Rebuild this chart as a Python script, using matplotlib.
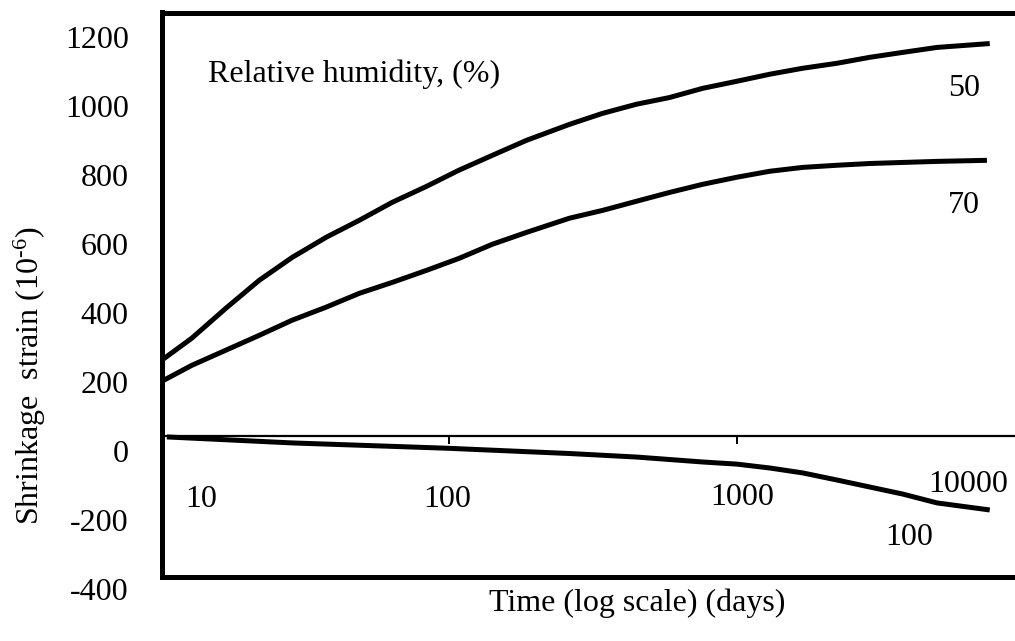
import matplotlib
matplotlib.use("Agg")
import matplotlib.pyplot as plt
from matplotlib.ticker import NullLocator, FixedLocator, NullFormatter
import matplotlib.transforms as mtransforms

plt.rcParams["font.family"] = ["Liberation Serif", "DejaVu Serif"]
plt.rcParams["mathtext.fontset"] = "custom"
plt.rcParams["mathtext.rm"] = "Liberation Serif"
plt.rcParams["mathtext.it"] = "Liberation Serif:italic"
plt.rcParams["axes.unicode_minus"] = False

# Shrinkage strain (x10^-6) versus time, for three relative humidities
days_50 = [10, 12.7, 16.7, 21.8, 28.4, 37.3, 48.6, 63.3, 83.2, 108, 141, 186,
           262, 341, 448, 584, 761, 1000, 1303, 1698, 2231, 2907, 3788, 4978, 7600]
strain_50 = [215, 277, 362, 441, 506, 563, 611, 662, 707, 753, 795, 838,
             883, 914, 940, 959, 985, 1005, 1025, 1042, 1056, 1073, 1087, 1101, 1112]

days_70 = [10, 12.7, 16.7, 21.8, 28.4, 37.3, 48.6, 63.3, 83.2, 108, 141, 186,
           262, 341, 448, 584, 761, 1000, 1303, 1698, 2231, 2907, 3788, 4978, 7430]
strain_70 = [155, 200, 243, 285, 328, 365, 404, 435, 469, 503, 543, 577,
             617, 639, 665, 690, 713, 733, 750, 761, 767, 772, 775, 778, 781]

days_100 = [10.4, 28.4, 98, 262, 448, 761, 1000, 1303, 1698, 2231, 2907, 3788, 4978, 7600]
strain_100 = [-3, -20, -35, -50, -60, -74, -80, -91, -105, -125, -145, -165, -190, -210]

y_ticks = [-400, -200, 0, 200, 400, 600, 800, 1000, 1200]
x_labels = [10, 100, 1000, 10000]
humidity_labels = [("50", 6200, 985), ("70", 6200, 653), ("100", 4000, -287)]

W, H = 1015, 641
fig = plt.figure(figsize=(W / 100, H / 100), dpi=100)
left, right, top, bottom = 162, 1024, 12.5, 577
ax = fig.add_axes([left / W, 1 - bottom / H, (right - left) / W, (bottom - top) / H])

ax.set_xscale("log")
ax.set_xlim(10, 10000)
ax.set_ylim(-400, 1200)

line_kw = dict(color="black", lw=3.6, solid_capstyle="butt", solid_joinstyle="round")
ax.plot(days_50, strain_50, **line_kw)
ax.plot(days_70, strain_70, **line_kw)
ax.plot(days_100, strain_100, **line_kw)

for side in ("left", "top", "bottom"):
    ax.spines[side].set_linewidth(3.6)
ax.spines["right"].set_visible(False)

FS = 23

# y axis: labels only, set slightly below their grid values
ax.set_yticks(y_ticks)
ax.set_yticklabels([str(v) for v in y_ticks])
ax.tick_params(axis="y", length=0, pad=24, labelsize=FS)
for v, lab in zip(y_ticks, ax.get_yticklabels()):
    drop = (12 + 0.008 * (v + 400)) / 100
    shift = mtransforms.ScaledTranslation(0, -drop, fig.dpi_scale_trans)
    lab.set_transform(lab.get_transform() + shift)

# x axis hidden on the frame; drawn instead as a line through zero
ax.xaxis.set_major_locator(NullLocator())
ax.xaxis.set_minor_locator(NullLocator())
ax.xaxis.set_major_formatter(NullFormatter())
ax.xaxis.set_minor_formatter(NullFormatter())

zero_axis = ax.secondary_xaxis(400 / 1600)
zero_axis.spines["bottom"].set_linewidth(1.6)
zero_axis.xaxis.set_major_locator(FixedLocator([100, 1000]))
zero_axis.xaxis.set_minor_locator(NullLocator())
zero_axis.xaxis.set_major_formatter(NullFormatter())
zero_axis.xaxis.set_minor_formatter(NullFormatter())
zero_axis.tick_params(axis="x", direction="out", length=6, width=1.4)

label_offsets = {10: (39, -64), 100: (-2, -64), 1000: (6, -62), 10000: (-56, -49)}
for v in x_labels:
    dx, dy = label_offsets[v]
    ax.annotate(str(v), xy=(v, 0), xytext=(dx, dy), textcoords="offset pixels",
                ha="center", va="center", fontsize=FS, annotation_clip=False)

for txt, xv, yv in humidity_labels:
    ax.text(xv, yv, txt, ha="center", va="center", fontsize=FS)

ax.text((208 - left) / (right - left), (bottom - 74) / (bottom - top),
        "Relative humidity, (%)", transform=ax.transAxes,
        ha="left", va="center", fontsize=FS)

fig.text(30 / W, 1 - 376 / H, r"Shrinkage  strain (10$^{\text{-}6}$)", rotation=90,
         ha="center", va="center", fontsize=FS)
fig.text(637 / W, 1 - 603 / H, "Time (log scale) (days)",
         ha="center", va="center", fontsize=FS)

fig.savefig("out.png", dpi=100, facecolor="white")
